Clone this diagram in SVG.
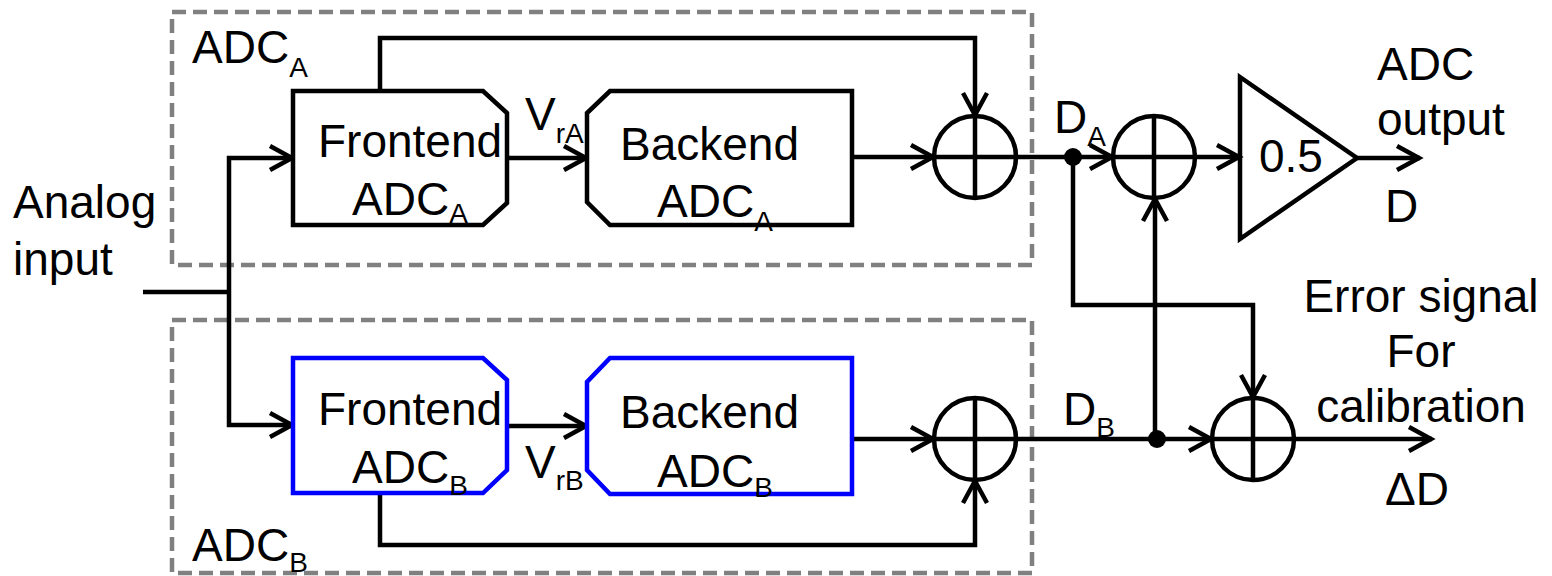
<svg xmlns="http://www.w3.org/2000/svg" width="1552" height="576" viewBox="0 0 1552 576">
<style>
text{font-family:"Liberation Sans",Arial,sans-serif;font-size:46px;fill:#000}
.sub{font-size:28px}
.grp{fill:none;stroke:#808080;stroke-width:4.5;stroke-dasharray:14 7}
.blk{fill:#fff;stroke:#000;stroke-width:4.5;stroke-linejoin:miter}
.blu{fill:#fff;stroke:#0000ff;stroke-width:4.5}
.ln{fill:none;stroke:#000;stroke-width:4.5}
.arr{fill:none;stroke:#000;stroke-width:4.5;marker-end:url(#ah)}
</style>
<defs>
<marker id="ah" markerUnits="userSpaceOnUse" markerWidth="40" markerHeight="40" viewBox="-30 -20 40 40" refX="1" refY="0" orient="auto" overflow="visible">
<path d="M-22,-12 L0,0 L-22,12" fill="none" stroke="#000" stroke-width="4.5"/>
</marker>
</defs>

<g id="groupA">
<rect class="grp" x="172" y="12" width="860" height="253"/>
<text x="192" y="63">ADC<tspan class="sub" dy="14">A</tspan></text>
</g>
<g id="groupB">
<rect class="grp" x="172" y="320" width="860" height="253"/>
<text x="192" y="561">ADC<tspan class="sub" dy="11">B</tspan></text>
</g>

<g id="connectors">
<path class="ln" d="M143,292 H229"/>
<path class="arr" d="M229,292 V158 H293"/>
<path class="arr" d="M229,292 V425 H293"/>
<path class="arr" d="M507,158 H587"/>
<path class="arr" d="M507,426 H587"/>
<path class="arr" d="M852,157 H934"/>
<path class="arr" d="M852,439 H934"/>
<path class="arr" d="M380,91 V38 H975 V116"/>
<path class="arr" d="M380,493 V545 H975 V480"/>
<path class="arr" d="M1016,157 H1113"/>
<path class="arr" d="M1016,439 H1212"/>
<path class="arr" d="M1073,157 V305 H1253 V398"/>
<path class="arr" d="M1155,439 V198"/>
<path class="arr" d="M1195,157 H1240"/>
<path class="arr" d="M1357,158 H1420"/>
<path class="arr" d="M1294,439 H1432"/>
<circle cx="1073" cy="157" r="9" fill="#000"/>
<circle cx="1157" cy="439" r="9" fill="#000"/>
</g>

<g id="frontendA">
<path class="blk" d="M293,91 H483 L507,113 V203 L483,225 H293 Z"/>
<text x="318" y="157">Frontend</text>
<text x="352" y="215">ADC<tspan class="sub" dy="8">A</tspan></text>
</g>
<g id="frontendB">
<path class="blu" d="M293,358 H483 L507,380 V470 L483,493 H293 Z"/>
<text x="318" y="425">Frontend</text>
<text x="352" y="483">ADC<tspan class="sub" dy="12">B</tspan></text>
</g>
<g id="backendA">
<path class="blk" d="M610,91 H852 V225 H610 L587,202 V113 Z"/>
<text x="620" y="160">Backend</text>
<text x="657" y="217">ADC<tspan class="sub" dy="14">A</tspan></text>
</g>
<g id="backendB">
<path class="blu" d="M610,358 H852 V494 H610 L587,470 V382 Z"/>
<text x="620" y="428">Backend</text>
<text x="657" y="487">ADC<tspan class="sub" dy="10">B</tspan></text>
</g>

<text x="525" y="130">V<tspan class="sub" dy="13">rA</tspan></text>
<text x="525" y="478">V<tspan class="sub" dy="12">rB</tspan></text>

<g id="sumA1">
<circle class="ln" cx="975" cy="157" r="41"/>
<path class="ln" d="M975,116 V198 M934,157 H1016"/>
</g>
<g id="sumB1">
<circle class="ln" cx="975" cy="439" r="41"/>
<path class="ln" d="M975,398 V480 M934,439 H1016"/>
</g>
<g id="sumA2">
<circle class="ln" cx="1154" cy="157" r="41"/>
<path class="ln" d="M1154,116 V198 M1113,157 H1195"/>
</g>
<g id="sumB2">
<circle class="ln" cx="1253" cy="439" r="41"/>
<path class="ln" d="M1253,398 V480 M1212,439 H1294"/>
</g>

<g id="amp">
<path class="ln" d="M1240,77 L1357,158 L1240,239 Z"/>
<text x="1259" y="172">0.5</text>
</g>

<text x="1054" y="133">D<tspan class="sub" dy="13">A</tspan></text>
<text x="1063" y="425">D<tspan class="sub" dy="12">B</tspan></text>

<text x="13" y="218">Analog</text>
<text x="13" y="275">input</text>

<text x="1377" y="80">ADC</text>
<text x="1377" y="135">output</text>
<text x="1385" y="222">D</text>

<text x="1421" y="312" text-anchor="middle">Error signal</text>
<text x="1421" y="367" text-anchor="middle">For</text>
<text x="1421" y="422" text-anchor="middle">calibration</text>
<text x="1385" y="505">ΔD</text>
</svg>
